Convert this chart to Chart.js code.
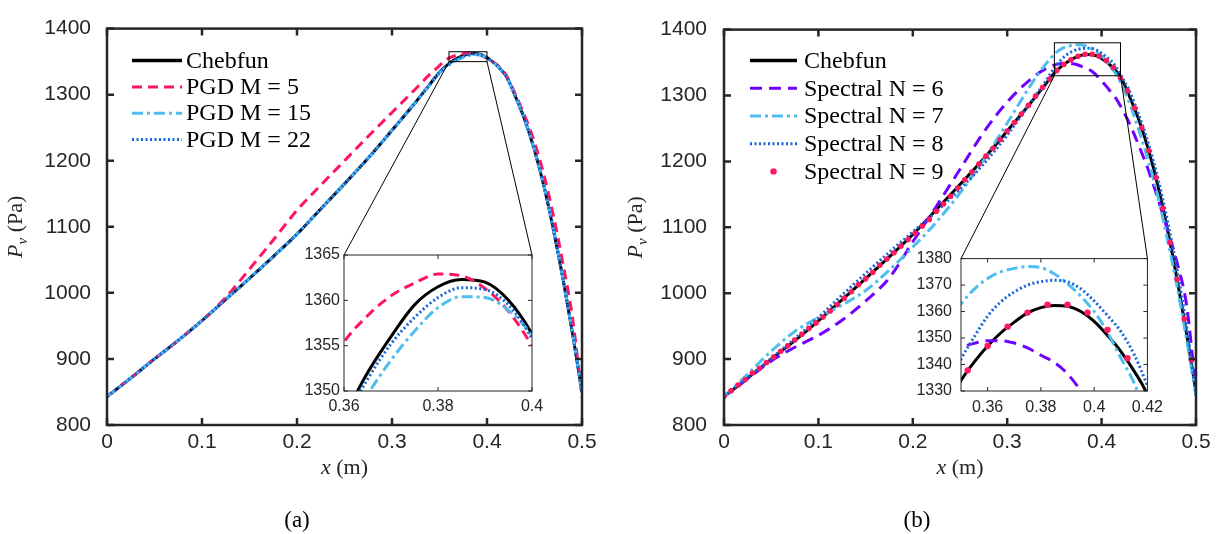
<!DOCTYPE html>
<html>
<head>
<meta charset="utf-8">
<script src="https://cdn.jsdelivr.net/npm/chart.js@4.4.1/dist/chart.umd.min.js"></script>
<style>
  html, body { margin: 0; padding: 0; background: #fff; }
  #wrap { position: relative; width: 1219px; height: 534px; overflow: hidden; }
  canvas { position: absolute; }
</style>
</head>
<body>
<div id="wrap">
  <canvas id="mainA" style="left:0px;top:0px" width="610" height="534"></canvas>
  <canvas id="mainB" style="left:610px;top:0px" width="609" height="534"></canvas>
  <canvas id="insetA" style="left:280px;top:240px" width="270" height="190"></canvas>
  <canvas id="insetB" style="left:890px;top:240px" width="280" height="190"></canvas>
</div>
<script>
// x positions (m) shared by all curves
const xGrid = [0,0.025,0.05,0.075,0.1,0.125,0.15,0.175,0.2,0.225,0.25,0.275,0.3,0.325,0.34,0.35,0.355,0.36,0.365,0.37,0.375,0.38,0.385,0.39,0.395,0.4,0.405,0.41,0.415,0.42,0.43,0.44,0.45,0.46,0.47,0.48,0.49,0.5];

// Pv (Pa)
const chebfun = [843,871,900,928,958,990,1022,1055,1089,1127,1165,1204,1246,1289,1316,1334,1341,1347,1352,1356,1359.5,1361.5,1362.3,1362,1360,1356.3,1351,1345,1337.5,1328.5,1297,1261,1216,1161,1095,1021,939,850];
const pgd5  = [843,871,900,928,958,993,1036,1080,1125,1163,1200,1237,1273,1309,1331,1344,1351,1355.4,1358.3,1360.5,1361.9,1362.9,1362.7,1361.3,1358.8,1355,1350.5,1346,1338.5,1330,1300,1267,1228,1178,1116,1044,962,842];
const pgd15 = [843,871,900,928,958,990,1022,1055,1089,1127,1165,1204,1246,1289,1315,1333,1339.5,1345.3,1349.6,1353.4,1356.6,1359.2,1360.4,1360.3,1358.9,1356,1350.5,1344.5,1337,1328,1297,1261,1216,1161,1095,1021,939,850];
const pgd22 = [843,871,900,928,958,990,1022,1055,1089,1127,1165,1204,1246,1289,1316,1333.5,1340.5,1346.5,1351.3,1355.2,1358.1,1360.3,1361.4,1361.2,1359.5,1355.8,1350.7,1344.8,1337.3,1328.3,1297,1261,1216,1161,1095,1021,939,850];
const spec6 = [843,870,897,918,936,959,988,1023,1078,1132,1188,1244,1290,1325,1340,1346.3,1348,1349,1349,1348.1,1346.3,1343.5,1340.8,1336.5,1330,1322,1314,1305,1296,1284,1256,1222,1185,1142,1095,1046,982,852];
const spec7 = [843,877,912,942,963,982,1004,1035,1070,1108,1152,1202,1258,1316,1346,1362.8,1368.5,1372.5,1375,1376.3,1377,1376.6,1374.3,1370.5,1365.8,1360,1352.2,1342.5,1333,1320,1287,1245,1198,1145,1080,1010,930,845];
const spec8 = [843,872,901,931,963,997,1030,1062,1093,1124,1158,1196,1240,1290,1320,1342,1350.5,1358.3,1363.7,1367.4,1370,1371.3,1371.8,1371.2,1368.6,1364,1358.5,1352.5,1343.8,1332,1305,1268,1225,1172,1108,1035,950,845];

// Spectral N = 9 is drawn as dots, one every 0.0075 m
const spec9Step = 0.0075;
const spec9 = [843.6,852,860.8,869,878.8,886,894.9,903.2,912,920.2,929,937.8,946.6,954.9,963.7,973,982.7,992.5,1002.2,1013,1021.8,1031.5,1042.3,1052,1061.3,1071.6,1081.3,1091,1101.8,1112,1124.3,1135.4,1147.2,1159.5,1172,1183.8,1196,1208,1220,1233,1246,1259,1272,1285,1299,1312,1325,1337.8,1347,1354.3,1359.6,1362.6,1362.6,1359.6,1353.1,1342.4,1327,1307,1281,1251,1216,1175.5,1129,1077,1021,961,899];

// ticks
const mainXTicks = [0,0.1,0.2,0.3,0.4,0.5];
const mainYTicks = [800,900,1000,1100,1200,1300,1400];
const insetAXTicks = [0.36,0.38,0.4];
const insetAYTicks = [1350,1355,1360,1365];
const insetBXTicks = [0.36,0.38,0.4,0.42];
const insetBYTicks = [1330,1340,1350,1360,1370,1380];

const axisColor = '#262626';
const tickFont = '"Liberation Sans", Arial, sans-serif';
const serif = '"Liberation Serif", "Times New Roman", serif';

function pts(ys) {
    return ys.map((y, i) => ({x: xGrid[i], y: y}));
}

function lineSet(label, ys, color, dash, width, order) {
    return {
        label: label,
        data: pts(ys),
        borderColor: color,
        backgroundColor: color,
        borderDash: dash,
        borderWidth: width,
        pointRadius: 0,
        fill: false,
        cubicInterpolationMode: 'monotone',
        clip: 0,
        order: order
    };
}

function leftSets() {
    return [
        lineSet('Chebfun', chebfun, '#000000', [], 3, 4),
        lineSet('PGD M = 5', pgd5, '#ff1464', [10, 6], 3, 3),
        lineSet('PGD M = 15', pgd15, '#4dbeee', [11, 4, 3, 4], 3, 2),
        lineSet('PGD M = 22', pgd22, '#1565d8', [2, 2.5], 3, 1)
    ];
}

function rightSets(dotRadius) {
    return [
        lineSet('Chebfun', chebfun, '#000000', [], 3, 5),
        lineSet('Spectral N = 6', spec6, '#7000ff', [12, 7], 3, 4),
        lineSet('Spectral N = 7', spec7, '#4dbeee', [11, 4, 3, 4], 3, 3),
        lineSet('Spectral N = 8', spec8, '#1565d8', [2, 2.5], 3, 2),
        {
            label: 'Spectral N = 9',
            data: spec9.map((y, i) => ({x: i * spec9Step, y: y})),
            showLine: false,
            pointRadius: dotRadius,
            pointBackgroundColor: '#ff1a5e',
            pointBorderWidth: 0,
            backgroundColor: '#ff1a5e',
            borderColor: '#ff1a5e',
            clip: 0,
            order: 0
        }
    ];
}

// box round the plot area with inward ticks on all four sides
const frameTicks = {
    id: 'frameTicks',
    afterDatasetsDraw(chart, args, o) {
        const ctx = chart.ctx, a = chart.chartArea;
        const x = chart.scales.x, y = chart.scales.y;
        ctx.save();
        ctx.setLineDash([]);
        ctx.strokeStyle = axisColor;
        ctx.lineWidth = o.width;
        ctx.beginPath();
        x.ticks.forEach(t => {
            const px = x.getPixelForValue(t.value);
            ctx.moveTo(px, a.bottom); ctx.lineTo(px, a.bottom - o.len);
            ctx.moveTo(px, a.top); ctx.lineTo(px, a.top + o.len);
        });
        y.ticks.forEach(t => {
            const py = y.getPixelForValue(t.value);
            ctx.moveTo(a.left, py); ctx.lineTo(a.left + o.len, py);
            ctx.moveTo(a.right, py); ctx.lineTo(a.right - o.len, py);
        });
        ctx.stroke();
        ctx.strokeRect(a.left, a.top, a.right - a.left, a.bottom - a.top);
        ctx.restore();
    }
};

// zoom rectangle on the main plot and the two lines to its inset
const zoomLinks = {
    id: 'zoomLinks',
    afterDatasetsDraw(chart, args, o) {
        const inset = Chart.getChart(o.inset);
        if (!inset) return;
        const ctx = chart.ctx, x = chart.scales.x, y = chart.scales.y;
        const ix = inset.scales.x, iy = inset.scales.y;
        const x0 = x.getPixelForValue(ix.min), x1 = x.getPixelForValue(ix.max);
        const y0 = y.getPixelForValue(iy.min), y1 = y.getPixelForValue(iy.max);
        const dx = inset.canvas.offsetLeft - chart.canvas.offsetLeft;
        const dy = inset.canvas.offsetTop - chart.canvas.offsetTop;
        const ia = inset.chartArea;
        ctx.save();
        ctx.setLineDash([]);
        ctx.strokeStyle = '#000';
        ctx.lineWidth = 1;
        ctx.strokeRect(x0, y1, x1 - x0, y0 - y1);
        ctx.beginPath();
        ctx.moveTo(x0, y0); ctx.lineTo(ia.left + dx, ia.top + dy);
        ctx.moveTo(x1, y0); ctx.lineTo(ia.right + dx, ia.top + dy);
        ctx.stroke();
        ctx.restore();
    }
};

// legend in the top left corner of the plot
const legendBox = {
    id: 'legendBox',
    afterDraw(chart, args, o) {
        const ctx = chart.ctx, a = chart.chartArea;
        ctx.save();
        ctx.font = o.font;
        ctx.textBaseline = 'middle';
        chart.data.datasets.forEach((ds, i) => {
            const yy = a.top + o.top + i * o.row;
            const x0 = a.left + o.left, x1 = x0 + o.sample;
            if (ds.showLine === false) {
                ctx.fillStyle = ds.pointBackgroundColor;
                ctx.beginPath();
                ctx.arc((x0 + x1) / 2, yy, 3.2, 0, Math.PI * 2);
                ctx.fill();
            } else {
                ctx.strokeStyle = ds.borderColor;
                ctx.lineWidth = i === 0 ? 3.5 : ds.borderWidth;
                ctx.setLineDash(ds.borderDash);
                ctx.beginPath();
                ctx.moveTo(x0, yy); ctx.lineTo(x1, yy);
                ctx.stroke();
            }
            ctx.fillStyle = '#000';
            ctx.fillText(ds.label, x1 + o.gap, yy + 1);
        });
        ctx.restore();
    }
};

// axis titles and panel caption
function drawPieces(ctx, pieces, cx, cy) {
    let w = 0;
    pieces.forEach(p => { ctx.font = p[0]; w += ctx.measureText(p[1]).width; });
    let xx = cx - w / 2;
    pieces.forEach(p => {
        ctx.font = p[0];
        ctx.fillText(p[1], xx, cy + p[2]);
        xx += ctx.measureText(p[1]).width;
    });
}

const axisTitles = {
    id: 'axisTitles',
    afterDraw(chart, args, o) {
        const ctx = chart.ctx, a = chart.chartArea;
        ctx.save();
        ctx.fillStyle = axisColor;
        ctx.textBaseline = 'alphabetic';
        drawPieces(ctx, [['italic 22px ' + serif, 'x', 0], ['22px ' + serif, ' (m)', 0]],
            (a.left + a.right) / 2, o.xTitleY);
        ctx.fillStyle = '#000';
        drawPieces(ctx, [['23px ' + serif, o.caption, 0]], o.captionX, o.captionY);
        ctx.fillStyle = axisColor;
        ctx.translate(o.yTitleX, (a.top + a.bottom) / 2);
        ctx.rotate(-Math.PI / 2);
        drawPieces(ctx, [['italic 22px ' + serif, 'P', 0], ['italic 15px ' + serif, 'v', 5],
            ['22px ' + serif, ' (Pa)', 0]], 0, 0);
        ctx.restore();
    }
};

function scale(min, max, tickValues, width, fontSize, pad, isY) {
    return {
        type: 'linear',
        min: min,
        max: max,
        grid: {display: false, drawTicks: false},
        border: {display: false},
        afterBuildTicks: s => { s.ticks = tickValues.map(v => ({value: v})); },
        afterFit: s => { if (isY) s.width = width; else s.height = width; },
        ticks: {
            autoSkip: false,
            maxRotation: 0,
            minRotation: 0,
            padding: pad,
            color: axisColor,
            font: {family: tickFont, size: fontSize},
            callback: v => String(v)
        }
    };
}

function baseOptions(padding, xs, ys) {
    return {
        responsive: false,
        animation: false,
        layout: {padding: padding},
        scales: {x: xs, y: ys},
        plugins: {legend: {display: false}, tooltip: {enabled: false}}
    };
}

// insets first: the main plots read their areas for the zoom lines
const insetAOpts = baseOptions({top: 15, right: 18, bottom: 4, left: 0},
    scale(0.36, 0.4, insetAXTicks, 35, 16, 6, false),
    scale(1350, 1365, insetAYTicks, 64, 16, 4, true));
insetAOpts.plugins.frameTicks = {width: 1, len: 4};
new Chart(document.getElementById('insetA'), {
    type: 'line',
    data: {datasets: leftSets()},
    options: insetAOpts,
    plugins: [frameTicks]
});

const insetBOpts = baseOptions({top: 13, right: 21, bottom: 4, left: 0},
    scale(0.35, 0.42, insetBXTicks, 35, 16, 7, false),
    scale(1330, 1380, insetBYTicks, 71, 16, 9, true));
insetBOpts.plugins.frameTicks = {width: 1, len: 4};
new Chart(document.getElementById('insetB'), {
    type: 'line',
    data: {datasets: rightSets(3.2)},
    options: insetBOpts,
    plugins: [frameTicks]
});

const mainAOpts = baseOptions({top: 17, right: 28, bottom: 69, left: 0},
    scale(0, 0.5, mainXTicks, 40, 21, 5, false),
    scale(800, 1400, mainYTicks, 107, 21, 16, true));
mainAOpts.plugins.frameTicks = {width: 2.5, len: 7};
mainAOpts.plugins.zoomLinks = {inset: 'insetA'};
mainAOpts.plugins.legendBox = {font: '24px ' + serif, top: 32, row: 26.3, left: 25, sample: 50, gap: 4};
mainAOpts.plugins.axisTitles = {caption: '(a)', captionX: 297, captionY: 527, xTitleY: 474, yTitleX: 22};
new Chart(document.getElementById('mainA'), {
    type: 'line',
    data: {datasets: leftSets()},
    options: mainAOpts,
    plugins: [zoomLinks, frameTicks, legendBox, axisTitles]
});

const mainBOpts = baseOptions({top: 15, right: 23, bottom: 69, left: 0},
    scale(0, 0.5, mainXTicks, 40, 21, 5, false),
    scale(800, 1400, mainYTicks, 114, 21, 17, true));
mainBOpts.plugins.frameTicks = {width: 2.5, len: 7};
mainBOpts.plugins.zoomLinks = {inset: 'insetB'};
mainBOpts.plugins.legendBox = {font: '24px ' + serif, top: 31, row: 27.7, left: 26, sample: 47, gap: 7};
mainBOpts.plugins.axisTitles = {caption: '(b)', captionX: 307, captionY: 527, xTitleY: 474, yTitleX: 32};
new Chart(document.getElementById('mainB'), {
    type: 'line',
    data: {datasets: rightSets(2.8)},
    options: mainBOpts,
    plugins: [zoomLinks, frameTicks, legendBox, axisTitles]
});
</script>
</body>
</html>
